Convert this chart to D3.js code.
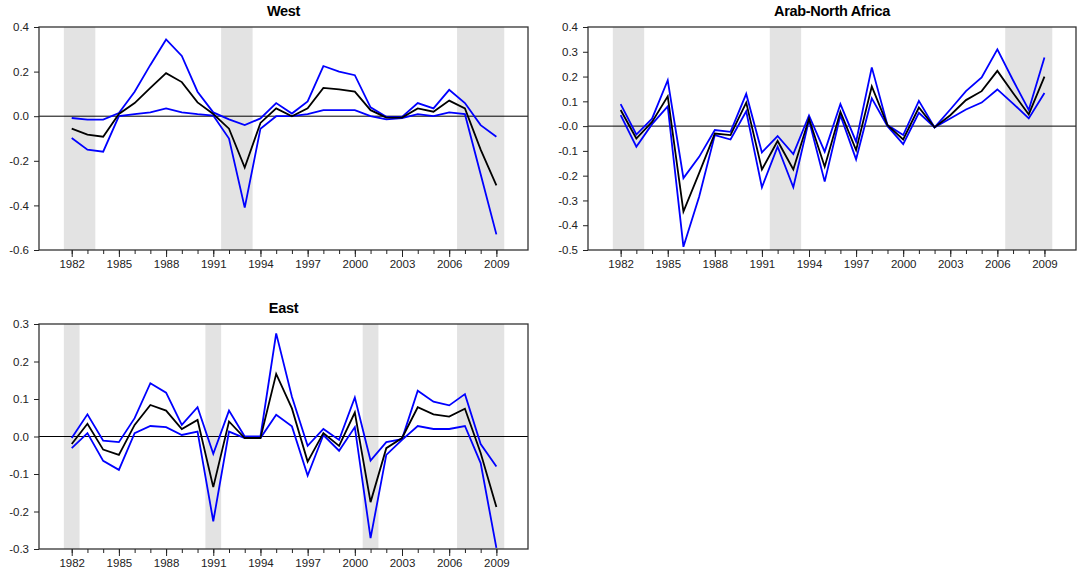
<!DOCTYPE html>
<html>
<head>
<meta charset="utf-8">
<script src="https://cdn.jsdelivr.net/npm/d3@7"></script>
<style>
  body { margin: 0; background: #fff; }
  svg { font-family: "Liberation Sans", Arial, sans-serif; }
  .tick text { font-size: 11.5px; fill: #222; }
  .tick line { stroke: #222; }
  .title { font-size: 14.5px; font-weight: bold; letter-spacing: -0.3px; }
</style>
</head>
<body>
<svg id="chart" width="1077" height="571"></svg>
<script>
const years = d3.range(1982, 2010);
const yearTicks = [1982, 1985, 1988, 1991, 1994, 1997, 2000, 2003, 2006, 2009];

// West
const westMid = [-0.056,-0.083,-0.092,0.01,0.059,0.127,0.193,0.153,0.062,0.01,-0.056,-0.23,-0.03,0.035,0.0,0.035,0.127,0.12,0.11,0.027,-0.006,-0.006,0.035,0.02,0.07,0.035,-0.15,-0.31];
const westUp = [-0.008,-0.015,-0.015,0.014,0.11,0.23,0.344,0.27,0.11,0.017,-0.014,-0.04,-0.01,0.059,0.012,0.066,0.225,0.2,0.184,0.04,-0.003,-0.003,0.059,0.035,0.118,0.059,-0.04,-0.092];
const westLow = [-0.098,-0.15,-0.159,0.0,0.009,0.017,0.035,0.017,0.009,0.003,-0.1,-0.41,-0.056,0.0,0.0,0.009,0.027,0.027,0.027,0.0,-0.014,-0.009,0.009,0.0,0.017,0.009,-0.26,-0.53];
const westShade = [[1981.5, 1983.5], [1991.5, 1993.5], [2006.5, 2009.5]];
const westTicks = [0.4, 0.2, 0.0, -0.2, -0.4, -0.6];
const westLabels = ["0.4", "0.2", "0.0", "-0.2", "-0.4", "-0.6"];

// Arab-North Africa
const arabMid = [0.065,-0.05,0.017,0.12,-0.345,-0.19,-0.03,-0.036,0.095,-0.175,-0.06,-0.175,0.03,-0.164,0.058,-0.097,0.16,0.004,-0.054,0.075,-0.005,0.044,0.105,0.141,0.223,0.134,0.047,0.2];
const arabUp = [0.089,-0.034,0.03,0.185,-0.21,-0.124,-0.016,-0.023,0.13,-0.106,-0.04,-0.113,0.043,-0.103,0.089,-0.063,0.237,0.004,-0.036,0.102,-0.005,0.067,0.141,0.196,0.31,0.185,0.065,0.277];
const arabLow = [0.044,-0.083,0.008,0.08,-0.487,-0.285,-0.036,-0.054,0.06,-0.247,-0.083,-0.247,0.024,-0.224,0.044,-0.134,0.112,0.0,-0.073,0.054,-0.005,0.031,0.067,0.095,0.148,0.091,0.031,0.134];
const arabShade = [[1981.5, 1983.5], [1991.5, 1993.5], [2006.5, 2009.5]];
const arabTicks = [0.4, 0.3, 0.2, 0.1, 0.0, -0.1, -0.2, -0.3, -0.4, -0.5];
const arabLabels = ["0.4", "0.3", "0.2", "0.1", "-0.0", "-0.1", "-0.2", "-0.3", "-0.4", "-0.5"];

// East
const eastMid = [-0.02,0.034,-0.035,-0.049,0.031,0.084,0.069,0.02,0.044,-0.135,0.04,-0.004,-0.004,0.167,0.075,-0.067,0.009,-0.025,0.064,-0.175,-0.031,-0.004,0.078,0.059,0.053,0.074,-0.044,-0.188];
const eastUp = [-0.004,0.059,-0.011,-0.015,0.049,0.142,0.117,0.031,0.078,-0.046,0.069,0.0,0.0,0.275,0.106,-0.025,0.02,-0.009,0.104,-0.064,-0.015,-0.007,0.122,0.093,0.083,0.113,-0.02,-0.08];
const eastLow = [-0.031,0.009,-0.065,-0.089,0.009,0.028,0.025,0.004,0.013,-0.226,0.013,-0.004,-0.004,0.058,0.027,-0.104,0.004,-0.038,0.025,-0.271,-0.049,-0.009,0.028,0.02,0.02,0.028,-0.071,-0.297];
const eastShade = [[1981.5, 1982.5], [1990.5, 1991.5], [2000.5, 2001.5], [2006.5, 2009.5]];
const eastTicks = [0.3, 0.2, 0.1, 0.0, -0.1, -0.2, -0.3];
const eastLabels = ["0.3", "0.2", "0.1", "0.0", "-0.1", "-0.2", "-0.3"];

const svg = d3.select("#chart");

function panel(title, box, yDomain, yTicks, yLabels, shade, mid, up, low) {
    const [left, right, top, bottom] = box;
    const x = d3.scaleLinear().domain([1979.92, 2011.01]).range([left, right]);
    const y = d3.scaleLinear().domain(yDomain).range([bottom, top]);
    const g = svg.append("g");

    // shaded periods
    g.selectAll(".shade")
        .data(shade)
        .join("rect")
        .attr("x", d => x(d[0]))
        .attr("width", d => x(d[1]) - x(d[0]))
        .attr("y", top)
        .attr("height", bottom - top)
        .attr("fill", "#e3e3e3");

    // zero line
    g.append("line")
        .attr("x1", left).attr("x2", right)
        .attr("y1", y(0)).attr("y2", y(0))
        .attr("stroke", "#000").attr("stroke-width", 1);

    const line = d3.line().x((d, i) => x(years[i])).y(d => y(d));
    [[up, "#0000ff"], [low, "#0000ff"], [mid, "#000"]].forEach(([s, c]) => {
        g.append("path")
            .attr("d", line(s))
            .attr("fill", "none")
            .attr("stroke", c)
            .attr("stroke-width", 1.8)
            .attr("stroke-linejoin", "miter");
    });

    // frame
    g.append("rect")
        .attr("x", left).attr("y", top)
        .attr("width", right - left).attr("height", bottom - top)
        .attr("fill", "none").attr("stroke", "#333").attr("stroke-width", 1.3);

    // x axis: minor ticks every year, labels every 3 years
    g.append("g")
        .attr("transform", `translate(0,${bottom})`)
        .call(d3.axisBottom(x).tickValues(years).tickSize(4).tickFormat(""))
        .call(a => a.select(".domain").remove());
    g.append("g")
        .attr("transform", `translate(0,${bottom})`)
        .call(d3.axisBottom(x).tickValues(yearTicks).tickSize(7).tickPadding(3).tickFormat(d3.format("d")))
        .call(a => a.select(".domain").remove());

    // y axis
    g.append("g")
        .attr("transform", `translate(${left},0)`)
        .call(d3.axisLeft(y).tickValues(yTicks).tickSize(5).tickPadding(5)
            .tickFormat((d, i) => yLabels[i]))
        .call(a => a.select(".domain").remove());

    g.append("text")
        .attr("class", "title")
        .attr("x", (left + right) / 2)
        .attr("y", top - 11)
        .attr("text-anchor", "middle")
        .text(title);
}

panel("West", [39, 528, 27, 250], [-0.6, 0.4], westTicks, westLabels, westShade, westMid, westUp, westLow);
panel("Arab-North Africa", [588, 1076, 27, 250], [-0.5, 0.4], arabTicks, arabLabels, arabShade, arabMid, arabUp, arabLow);
panel("East", [39, 528, 324, 549], [-0.3, 0.3], eastTicks, eastLabels, eastShade, eastMid, eastUp, eastLow);
</script>
</body>
</html>
